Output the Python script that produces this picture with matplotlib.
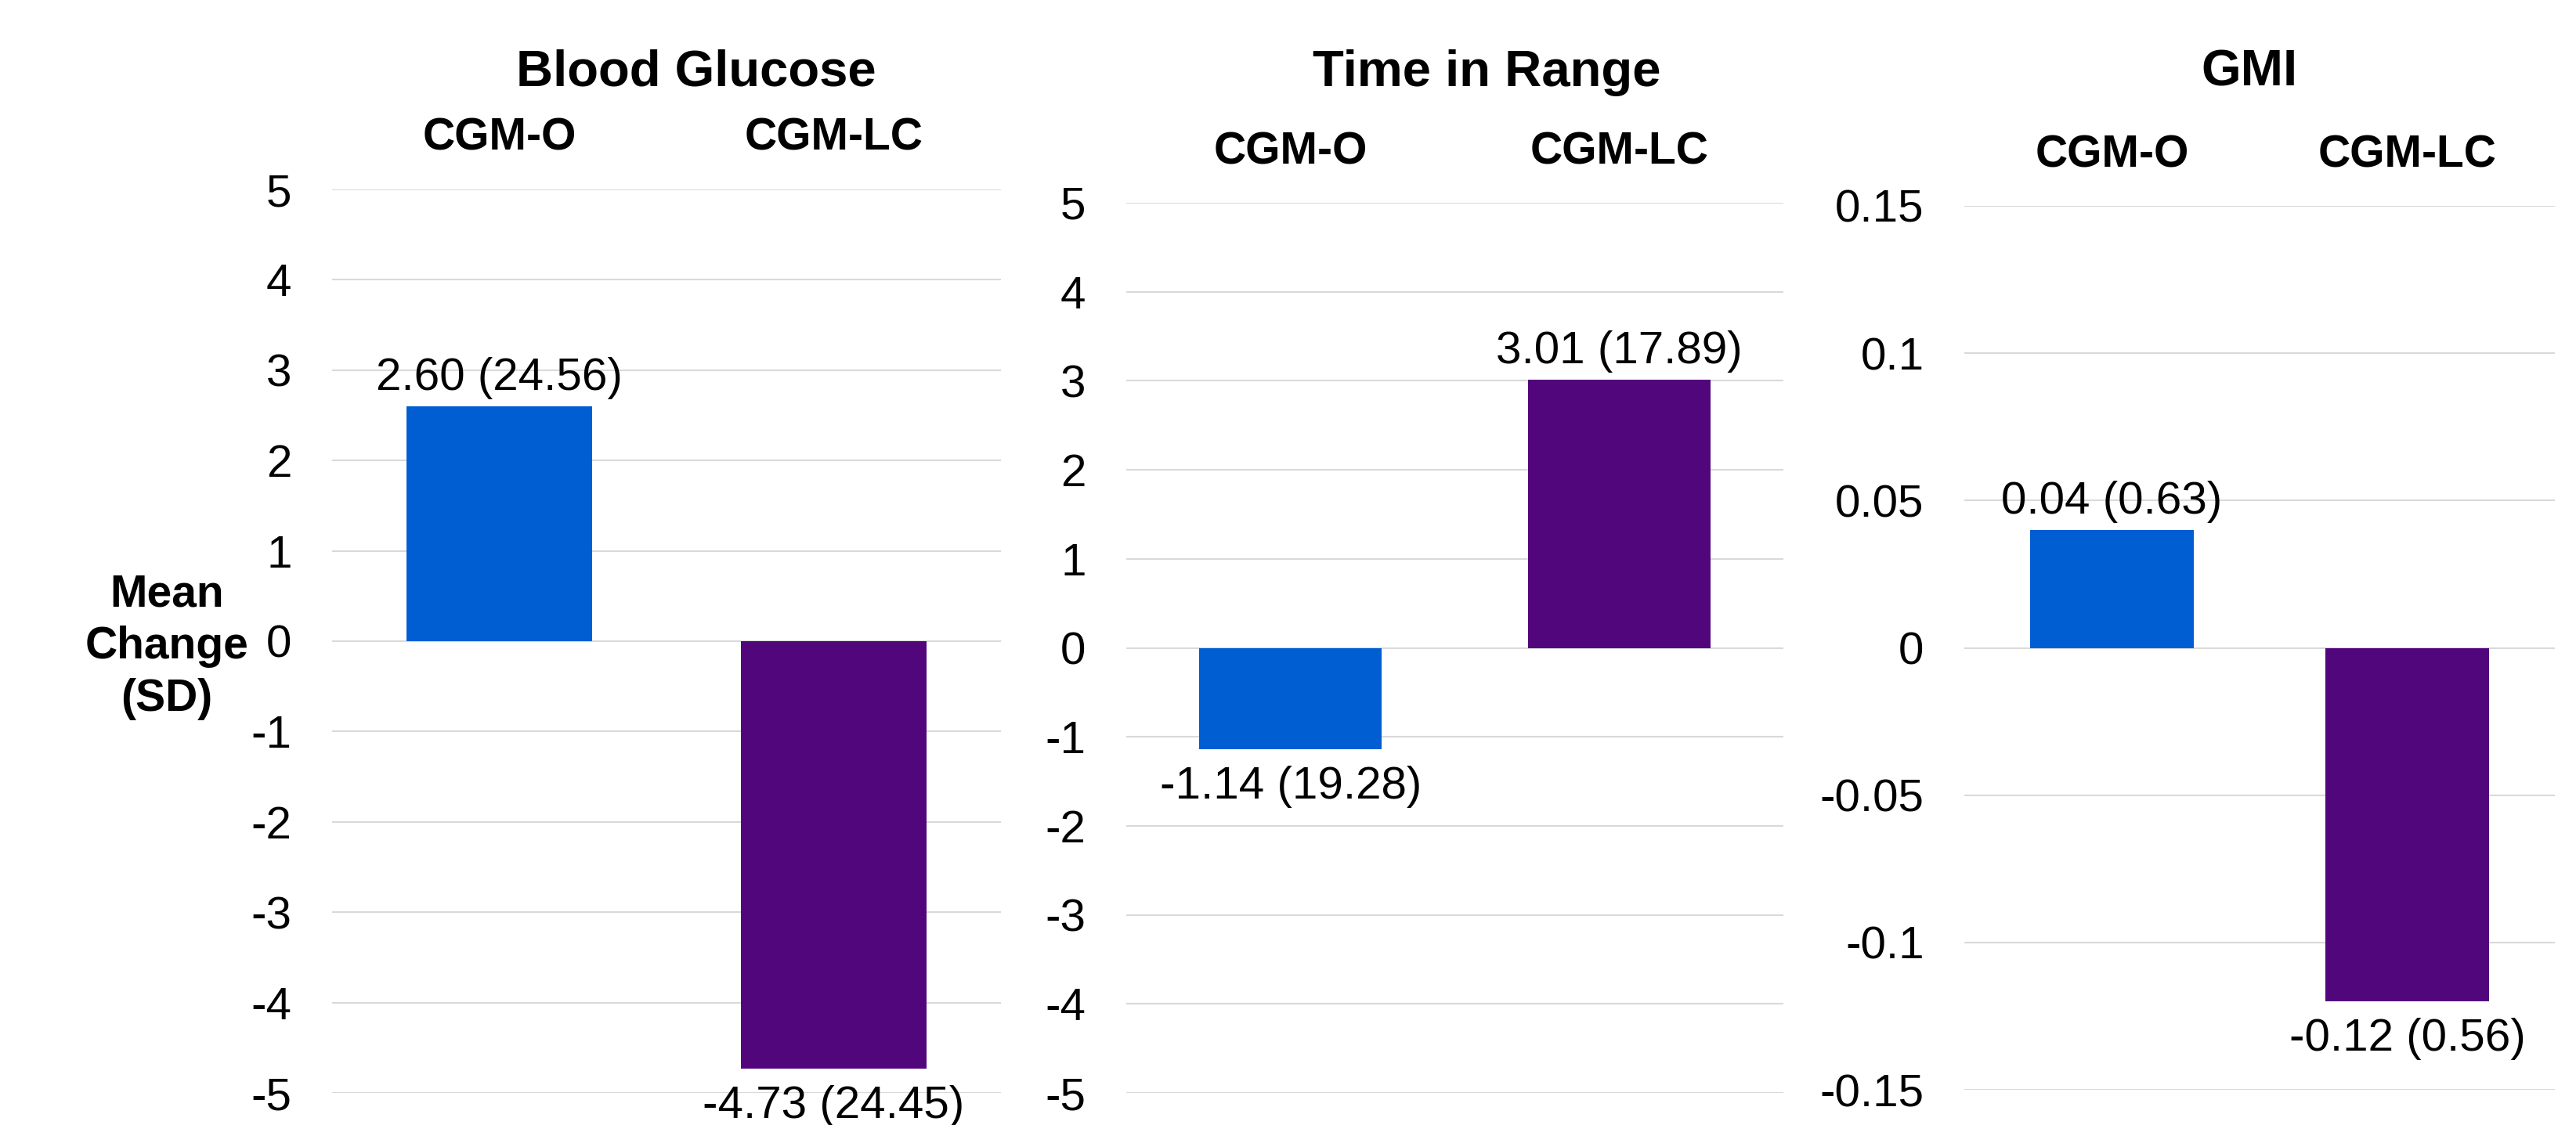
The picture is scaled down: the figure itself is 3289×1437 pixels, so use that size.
import matplotlib
matplotlib.use("Agg")
import matplotlib.pyplot as plt

plt.rcParams['font.family'] = ['Liberation Sans', 'DejaVu Sans']

# ---- data ----
categories = ["CGM-O", "CGM-LC"]
panel_titles = ["Blood Glucose", "Time in Range", "GMI"]
means_bg = [2.60, -4.73]
sds_bg = [24.56, 24.45]
means_tir = [-1.14, 3.01]
sds_tir = [19.28, 17.89]
means_gmi = [0.04, -0.12]
sds_gmi = [0.63, 0.56]
yticks_bg = [5, 4, 3, 2, 1, 0, -1, -2, -3, -4, -5]
yticks_tir = [5, 4, 3, 2, 1, 0, -1, -2, -3, -4, -5]
yticks_gmi = [0.15, 0.1, 0.05, 0, -0.05, -0.1, -0.15]
ytick_labels_gmi = ["0.15", "0.1", "0.05", "0", "-0.05", "-0.1", "-0.15"]
ylabel = "Mean\nChange\n(SD)"

bar_colors = ["#005ED2", "#52067C"]
grid_color = "#D9D9D9"

W, H = 3289, 1437
fig = plt.figure(figsize=(W / 100, H / 100), dpi=100)

axes_px = [  # left, right, top, bottom in pixels
    (424, 1278, 242, 1396),
    (1438, 2277, 259, 1396),
    (2508, 3262, 263, 1392),
]
panels = [
    (means_bg, sds_bg, yticks_bg, [str(t) for t in yticks_bg], "{:.2f}"),
    (means_tir, sds_tir, yticks_tir, [str(t) for t in yticks_tir], "{:.2f}"),
    (means_gmi, sds_gmi, yticks_gmi, ytick_labels_gmi, "{:.2f}"),
]
title_x = [889, 1898, 2872]

for (l, r, t, b), (means, sds, yt, ytl, fmt), ttl, tx in zip(axes_px, panels, panel_titles, title_x):
    ax = fig.add_axes([l / W, 1 - b / H, (r - l) / W, (b - t) / H])
    x = list(range(len(categories)))
    ax.bar(x, means, width=0.556, color=bar_colors, zorder=3)
    ax.set_xlim(-0.5, 1.5)
    ax.set_ylim(min(yt), max(yt))
    ax.set_yticks(yt)
    ax.set_yticklabels(ytl, fontsize=42)
    ax.tick_params(axis='y', length=0, pad=37)
    ax.set_xticks([])
    for s in ax.spines.values():
        s.set_visible(False)
    ax.yaxis.grid(True, color=grid_color, linewidth=1.5, zorder=0)
    ax.set_axisbelow(True)
    for i, (m, sd) in enumerate(zip(means, sds)):
        label = f"{fmt.format(m)} ({sd:.2f})"
        if m >= 0:
            ax.annotate(label, xy=(i, m), xytext=(0, 15), textcoords='offset points',
                        ha='center', va='baseline', fontsize=42, zorder=5)
        else:
            ax.annotate(label, xy=(i, m), xytext=(0, -15), textcoords='offset points',
                        ha='center', va='top', fontsize=42, zorder=5)
    for i, c in enumerate(categories):
        ax.annotate(c, xy=(i, 1), xycoords=('data', 'axes fraction'), xytext=(0, 36),
                    textcoords='offset points', ha='center', va='baseline',
                    fontsize=41, fontweight='bold', annotation_clip=False)
    fig.text(tx / W, 1 - 110 / H, ttl, ha='center', va='baseline', fontsize=47, fontweight='bold')

fig.text(213 / W, 1 - 826 / H, ylabel, ha='center', va='center', multialignment='center',
         fontsize=41, fontweight='bold', linespacing=1.3)

fig.savefig("out.png", dpi=100, facecolor='white')
